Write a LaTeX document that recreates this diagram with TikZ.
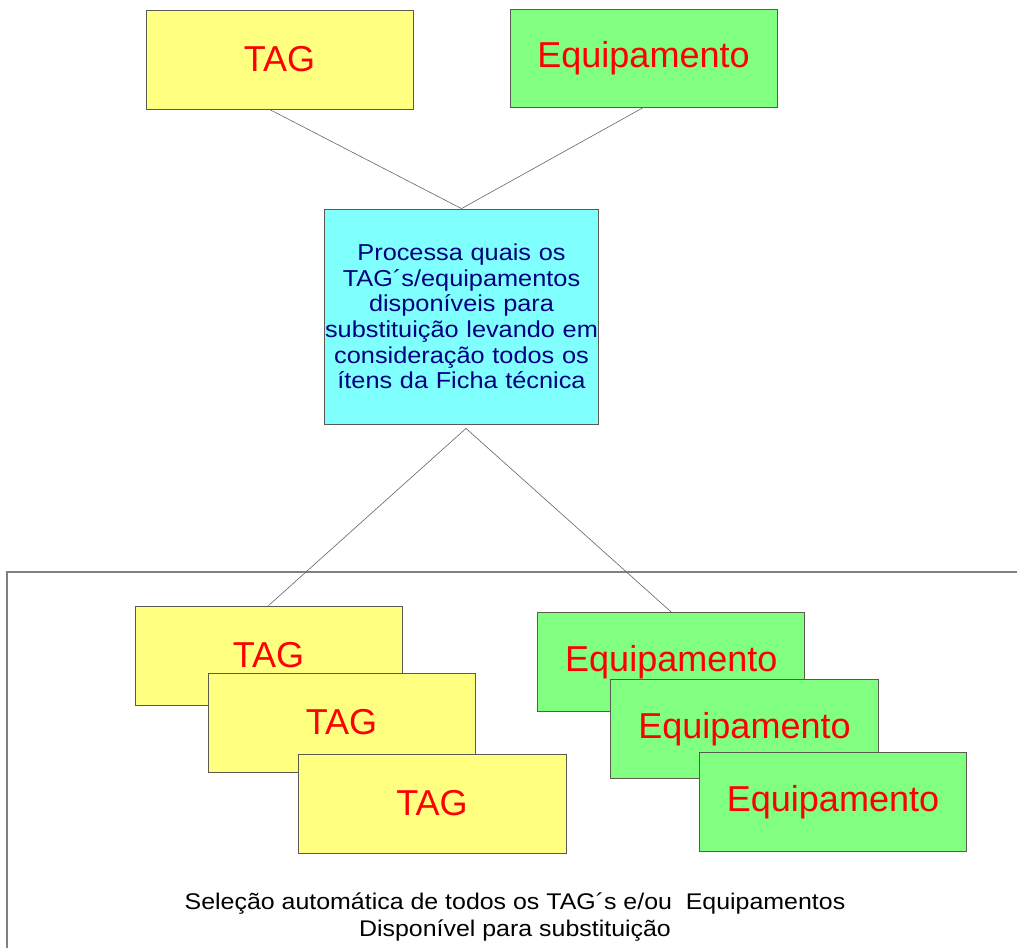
\documentclass[tikz,border=0pt]{standalone}
\usepackage{fontspec}
\setmainfont{Liberation Sans}
\newfontfamily\widefont[FakeStretch=1.1]{Liberation Sans}
\definecolor{tagfill}{HTML}{FFFF80}
\definecolor{eqfill}{HTML}{80FF80}
\definecolor{procfill}{HTML}{80FFFF}
\definecolor{boxline}{HTML}{5A5A50}
\definecolor{procblue}{HTML}{000080}
\tikzset{
	card/.style={draw=boxline, line width=0.5pt, minimum width=5.34cm, minimum height=1.98cm, inner sep=0pt,
		text=red, font=\fontsize{20.5}{24}\selectfont},
	tagcard/.style={card, fill=tagfill},
	eqcard/.style={card, fill=eqfill},
	link/.style={draw=black!60, line width=0.35pt}
}

\begin{document}
\begin{tikzpicture}[x=0.02cm, y=-0.02cm]
			%%%%% START %%%%%
			
			\useasboundingbox (0, 0) rectangle (1017, 947);
			
			\node[tagcard] (tagtop) at (279.5, 59.5) {TAG};
			\node[eqcard, minimum height=1.96cm] (eqtop) at (643.5, 58) {Equipamento};
			
			\node[draw=boxline, line width=0.5pt, fill=procfill, inner sep=0pt, text width=5.48cm, minimum height=4.3cm,
				align=center, text=procblue, font=\widefont\fontsize{13.1}{14.6}\selectfont] (proc) at (461.5, 316.5)
				{Processa quais os\\TAG´s/equipamentos\\disponíveis para\\substituição levando em\\consideração todos os\\ítens da Ficha técnica};
			
			\draw[link] ([xshift=-0.2cm]tagtop.south) -- (proc.north);
			\draw[link] (eqtop.south) -- (proc.north);
			
			\draw[line width=0.9pt, color=black!50] (7, 960) -- (7, 572) -- (1030, 572);
			
			\node[tagcard] (tagA) at (268.5, 655.5) {TAG};
			\node[eqcard] (eqA) at (671.3, 662) {Equipamento};
			
			\draw[link] ([xshift=0.09cm, yshift=-0.08cm]proc.south) -- (tagA.north);
			\draw[link] ([xshift=0.09cm, yshift=-0.08cm]proc.south) -- (eqA.north);
			
			\node[tagcard] (tagB) at (341.5, 722.5) {TAG};
			\node[tagcard, minimum width=5.36cm] (tagC) at (432, 803.5) {TAG};
			
			\node[eqcard, minimum width=5.36cm] (eqB) at (744.5, 729) {Equipamento};
			\node[eqcard] (eqC) at (833, 802) {Equipamento};
			
			\node[align=center, font=\widefont\fontsize{12.9}{15.2}\selectfont] (caption) at (515, 917)
				{Seleção automática de todos os TAG´s e/ou \ Equipamentos\\Disponível para substituição};
			
			%%%%% END %%%%%
		\end{tikzpicture}
\end{document}
